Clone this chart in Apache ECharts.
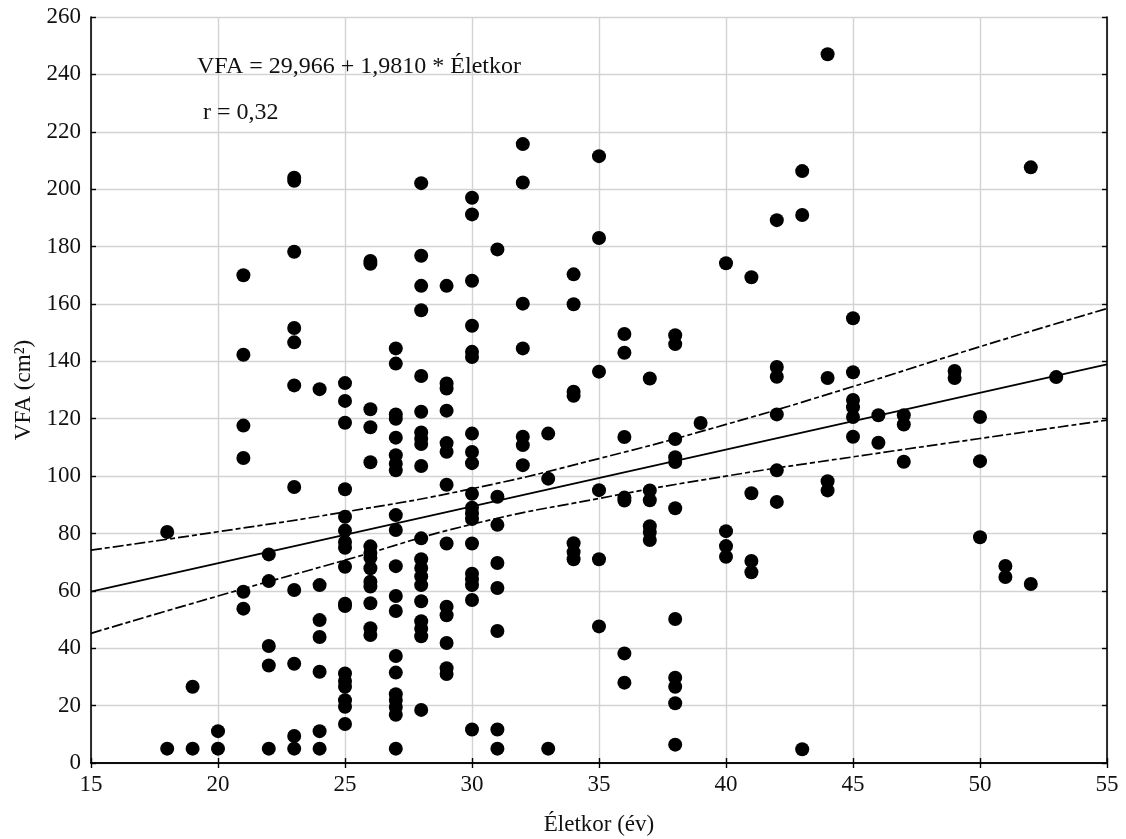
<!DOCTYPE html>
<html>
<head>
<meta charset="utf-8">
<script src="https://cdn.jsdelivr.net/npm/echarts@6/dist/echarts.min.js"></script>
<style>html,body{margin:0;padding:0;background:#fff}#c{width:1126px;height:839px}</style>
</head>
<body>
<div id="c"></div>
<script>
// Ages (x) and VFA values (y), grouped by age
const ages = [18,19,20,21,22,23,24,25,26,27,28,29,30,31,32,33,34,35,36,37,38,39,40,41,42,43,44,45,46,47,49,50,51,52,53];
const vfaByAge = [
  [80.5, 5],
  [26.6, 5],
  [11.1, 5],
  [170, 142.3, 117.6, 106.3, 59.7, 53.8],
  [72.7, 63.4, 40.8, 34, 5],
  [204, 202.9, 178.2, 151.6, 146.6, 131.6, 96.2, 60.3, 34.6, 9.4, 5],
  [130.3, 62, 49.8, 43.9, 31.8, 11.1, 5],
  [132.4, 126.2, 118.6, 95.4, 85.8, 81, 77, 75, 68.4, 55.5, 54.7, 31.2, 28.6, 26.6, 21.9, 19.6, 13.6],
  [175, 174, 123.3, 117, 104.8, 75.5, 73.2, 71.5, 67.9, 63.2, 61.5, 55.7, 47, 44.6],
  [144.5, 139.2, 121.5, 120, 113.4, 107.3, 104.3, 102, 86.4, 81.2, 68.6, 58.2, 53, 37.3, 31.5, 24, 22, 19.5, 16.8, 5],
  [202.1, 176.8, 166.3, 157.8, 134.9, 122.4, 115.2, 113, 111.2, 103.5, 78.3, 71, 68, 65, 62, 56.4, 49.4, 46.8, 44.2, 18.5],
  [166.3, 132.3, 130.5, 122.8, 111.5, 108.5, 97, 76.5, 54.5, 51.5, 41.8, 33, 31],
  [197, 191.2, 168.1, 152.4, 143.3, 141.5, 114.8, 108.4, 104.5, 93.8, 89, 87, 85, 76.5, 66, 64, 62, 56.8, 11.7],
  [179, 92.8, 83, 69.7, 61, 46, 11.7, 5],
  [215.7, 202.3, 160.1, 144.5, 113.7, 110.8, 103.8],
  [114.8, 99.1, 5],
  [170.3, 159.9, 129.4, 128, 76.6, 73.5, 71],
  [211.5, 183, 136.4, 95.1, 71, 47.6],
  [149.5, 143, 113.6, 92.5, 91.5, 38.2, 28],
  [134, 95, 91.6, 82.5, 80.5, 77.7],
  [149.1, 146, 112.9, 106.6, 104.9, 88.8, 50.2, 29.7, 26.6, 20.8, 6.4],
  [118.5],
  [174.2, 80.8, 75.6, 71.9],
  [169.3, 94, 70.4, 66.5],
  [189.2, 138, 134.6, 121.5, 102, 91],
  [206.3, 191, 4.8],
  [247, 134.2, 98.2, 95],
  [155, 136.2, 126.5, 124, 120.6, 113.7],
  [121.2, 111.6],
  [121.2, 118, 105],
  [136.6, 134.2],
  [120.6, 105.2, 78.7],
  [68.7, 64.8],
  [207.6, 62.4],
  [134.5]
];

// Regression line end points (VFA = 29,966 + 1,9810 * Életkor) read at x = 15 and 55
const fitX = [15, 55];
const fitY = [59.7, 138.9];

// 95% confidence band
const bandX = [15, 20, 25, 30, 35, 40, 45, 50, 55];
const bandUpper = [74.2, 80.6, 87.5, 95.6, 106.1, 118, 131.2, 145.1, 158.4];
const bandLower = [45.2, 58.2, 70.7, 83.2, 92.2, 100, 106.7, 113.1, 119.5];

const xTicks = { min: 15, max: 55, interval: 5 };
const yTicks = { min: 0, max: 260, interval: 20 };

const equationText = 'VFA = 29,966 + 1,9810 * Életkor';
const rText = 'r = 0,32';

const points = [];
ages.forEach((a, i) => vfaByAge[i].forEach(v => points.push([a, v])));
const fitData = fitX.map((x, i) => [x, fitY[i]]);
const upData = bandX.map((x, i) => [x, bandUpper[i]]);
const loData = bandX.map((x, i) => [x, bandLower[i]]);

const FONT = '"Liberation Serif", "DejaVu Serif", serif';
const frame = { show: true, lineStyle: { color: '#000', width: 1.6 } };
const tick = { show: true, inside: true, length: 5, lineStyle: { color: '#000', width: 1.4 } };
const grid = { show: true, lineStyle: { color: '#d3d3d3', width: 1.4 } };

const chart = echarts.init(document.getElementById('c'));
chart.setOption({
  animation: false,
  backgroundColor: '#fff',
  grid: { left: 91, right: 19, top: 17, bottom: 76, outerBoundsMode: 'none', containLabel: false },
  xAxis: [
    { type: 'value', min: xTicks.min, max: xTicks.max, interval: xTicks.interval,
      axisLine: frame, axisTick: tick, splitLine: grid,
      axisLabel: { fontFamily: FONT, fontSize: 23, color: '#111', margin: 10 },
      name: 'Életkor (év)', nameLocation: 'middle', nameGap: 50,
      nameTextStyle: { fontFamily: FONT, fontSize: 23, color: '#111' } },
    { type: 'value', position: 'top', min: xTicks.min, max: xTicks.max, interval: xTicks.interval,
      axisLine: frame, axisTick: tick, splitLine: { show: false }, axisLabel: { show: false } }
  ],
  yAxis: [
    { type: 'value', min: yTicks.min, max: yTicks.max, interval: yTicks.interval,
      axisLine: frame, axisTick: tick, splitLine: grid,
      axisLabel: { fontFamily: FONT, fontSize: 23, color: '#111', margin: 10 },
      name: 'VFA (cm²)', nameLocation: 'middle', nameGap: 52, nameRotate: 90,
      nameTextStyle: { fontFamily: FONT, fontSize: 23, color: '#111' } },
    { type: 'value', position: 'right', min: yTicks.min, max: yTicks.max, interval: yTicks.interval,
      axisLine: frame, axisTick: tick, splitLine: { show: false }, axisLabel: { show: false } }
  ],
  series: [
    { type: 'line', data: upData, smooth: true, symbol: 'none', z: 3,
      lineStyle: { color: '#000', width: 1.7, type: [11, 3, 5, 3] } },
    { type: 'line', data: loData, smooth: true, symbol: 'none', z: 3,
      lineStyle: { color: '#000', width: 1.7, type: [11, 3, 5, 3] } },
    { type: 'line', data: fitData, symbol: 'none', z: 3,
      lineStyle: { color: '#000', width: 1.8 } },
    { type: 'scatter', data: points, symbol: 'circle', symbolSize: 14, z: 4,
      itemStyle: { color: '#000', opacity: 1 } }
  ],
  graphic: [
    { type: 'text', left: 197, top: 55, z: 10,
      style: { text: equationText, font: '24px ' + FONT, fill: '#111' } },
    { type: 'text', left: 203, top: 101, z: 10,
      style: { text: rText, font: '24px ' + FONT, fill: '#111' } }
  ]
});
</script>
</body>
</html>
